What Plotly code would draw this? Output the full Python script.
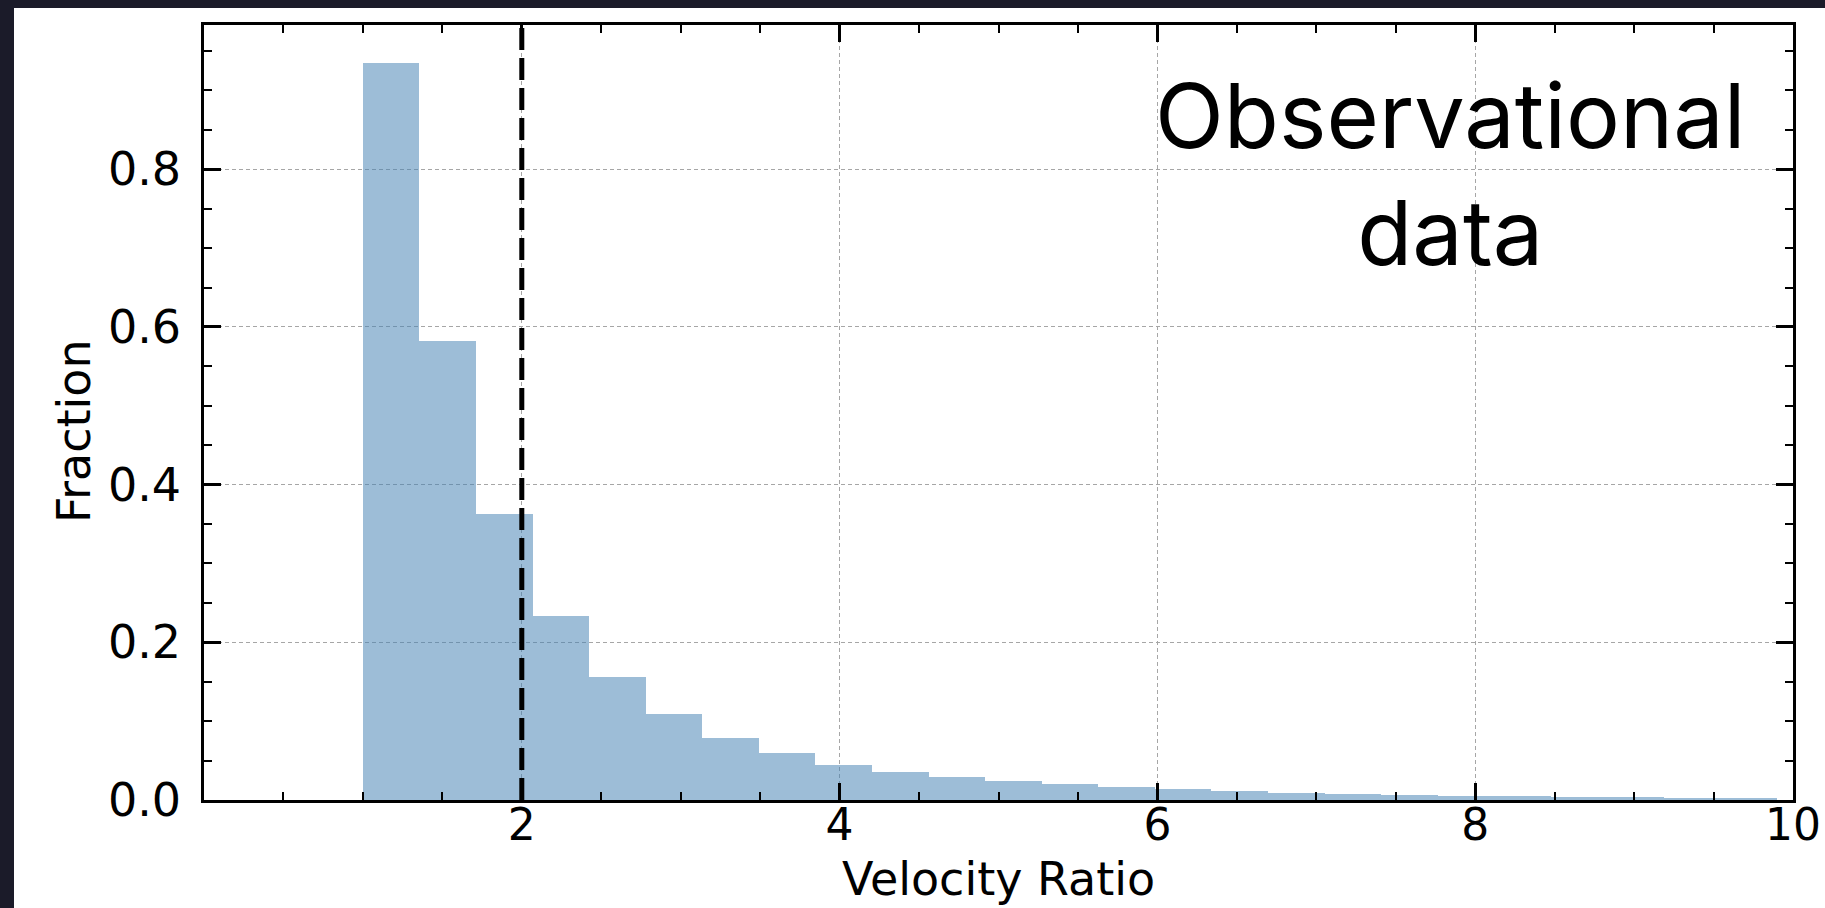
import plotly.graph_objects as go

# Histogram of velocity ratios: 25 equal-width bins from 1.0 to 9.9
bin_left = [1.000, 1.356, 1.712, 2.068, 2.424, 2.780, 3.136, 3.492, 3.848, 4.204,
            4.560, 4.916, 5.272, 5.628, 5.984, 6.340, 6.696, 7.052, 7.408, 7.764,
            8.120, 8.476, 8.832, 9.188, 9.544]
bin_width = 0.356
fraction = [0.935, 0.582, 0.363, 0.234, 0.156, 0.109, 0.079, 0.059, 0.045, 0.0355,
            0.0288, 0.0237, 0.0199, 0.016, 0.014, 0.011, 0.0085, 0.008, 0.0065, 0.0055,
            0.0045, 0.004, 0.0033, 0.003, 0.0025]
threshold = 2.0

x_ticks = [2, 4, 6, 8, 10]
y_ticks = [0.0, 0.2, 0.4, 0.6, 0.8]
x_range = [0, 10]
y_range = [0, 0.983]

W, H = 1825, 908
ML, MR, MT, MB = 204, 32, 25, 108
plot_w = W - ML - MR
plot_h = H - MT - MB
X_TICK_FONT = dict(family="DejaVu Sans", size=44, color="black")
Y_TICK_FONT = dict(family="DejaVu Sans", size=46, color="black")
TITLE_FONT = dict(family="DejaVu Sans", size=46, color="black")


def px_to_paper_x(px):
    return (px - ML) / plot_w


def px_to_paper_y(py):
    return (H - MB - py) / plot_h


centers = [b + bin_width / 2 for b in bin_left]

fig = go.Figure()
fig.add_trace(go.Bar(
    x=centers, y=fraction, width=[bin_width] * len(centers),
    marker=dict(color="rgba(70,130,180,0.53)", line=dict(width=0)),
    hoverinfo="skip", showlegend=False,
))

fig.add_vline(x=threshold, line=dict(color="black", width=5, dash="22px,8px"), layer="above")

axis_common = dict(
    showline=True, linecolor="black", linewidth=2.5, mirror="ticks",
    ticks="inside", ticklen=17, tickwidth=2.5, tickcolor="black",
    showgrid=True, gridcolor="#a6a6a6", gridwidth=1.2, griddash="4px,3px",
    zeroline=False,
)

fig.update_xaxes(
    **axis_common, range=x_range, tickvals=x_ticks, ticktext=[str(v) for v in x_ticks],
    tickfont=X_TICK_FONT, ticklabelstandoff=-16,
    minor=dict(ticks="inside", ticklen=8.5, tickwidth=2.2, tickcolor="black", dtick=0.5, tick0=0,
               showgrid=False),
)
fig.update_yaxes(
    **axis_common, range=y_range, tickvals=y_ticks, ticktext=[f"{v:.1f}" for v in y_ticks],
    tickfont=Y_TICK_FONT, ticklabelstandoff=11,
    minor=dict(ticks="inside", ticklen=8.5, tickwidth=2.2, tickcolor="black", dtick=0.05, tick0=0,
               showgrid=False),
)

# axis titles
fig.add_annotation(
    text="Velocity Ratio", xref="paper", yref="paper",
    x=0.5, y=px_to_paper_y(879), xanchor="center", yanchor="middle",
    showarrow=False, font=TITLE_FONT,
)
fig.add_annotation(
    text="Fraction", xref="paper", yref="paper", textangle=-90,
    x=px_to_paper_x(74), y=px_to_paper_y(431), xanchor="center", yanchor="middle",
    showarrow=False, font=TITLE_FONT,
)

fig.add_annotation(
    text="Observational<br>data", xref="paper", yref="paper",
    x=px_to_paper_x(1450), y=0.808, xanchor="center", yanchor="middle",
    showarrow=False, align="center",
    font=dict(family="Inter", size=90, color="black"),
)

# dark border strips along the left and top edges of the page
fig.add_shape(type="rect", xref="paper", yref="paper", layer="above",
              x0=-ML / plot_w, x1=px_to_paper_x(14), y0=-MB / plot_h, y1=px_to_paper_y(0) + 0.01,
              fillcolor="#1b1b29", line=dict(width=0))
fig.add_shape(type="rect", xref="paper", yref="paper", layer="above",
              x0=-ML / plot_w, x1=px_to_paper_x(W) + 0.01, y0=px_to_paper_y(8), y1=px_to_paper_y(0) + 0.01,
              fillcolor="#1b1b29", line=dict(width=0))

fig.update_layout(
    width=W, height=H, margin=dict(l=ML, r=MR, t=MT, b=MB, autoexpand=False),
    paper_bgcolor="white", plot_bgcolor="white", bargap=0, showlegend=False,
)

fig.write_html("out.html")
